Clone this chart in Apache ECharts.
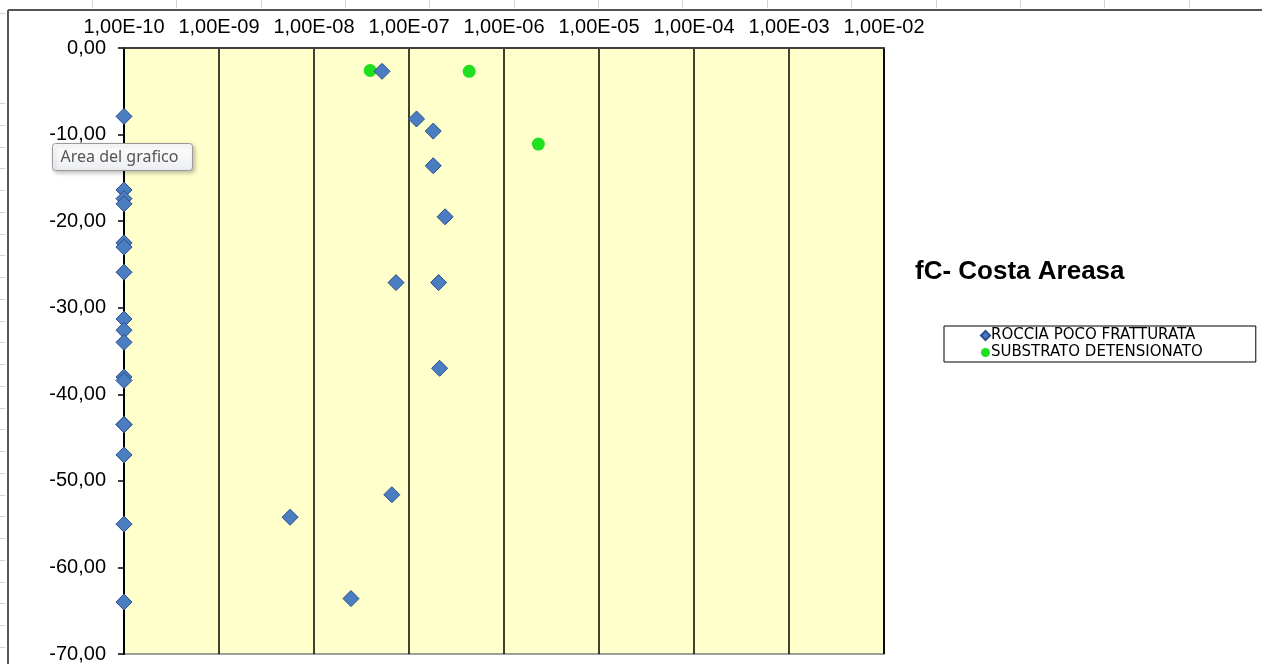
<!DOCTYPE html>
<html>
<head>
<meta charset="utf-8">
<script src="https://cdn.jsdelivr.net/npm/echarts@6/dist/echarts.min.js"></script>
<style>
html,body{margin:0;padding:0;background:#fff;}
#c{width:1262px;height:664px;}
</style>
</head>
<body>
<div id="c"></div>
<script>
// ---- data ----
var chartTitle = 'fC- Costa Areasa';
var seriesNames = ['ROCCIA POCO FRATTURATA', 'SUBSTRATO DETENSIONATO'];
var xTickExponents = [-10, -9, -8, -7, -6, -5, -4, -3, -2];
var yTicks = [0, -10, -20, -30, -40, -50, -60, -70];

var rocciaK = [1e-10, 1e-10, 1e-10, 1e-10, 1e-10, 1e-10, 1e-10, 1e-10, 1e-10, 1e-10, 1e-10, 1e-10, 1e-10, 1e-10, 1e-10, 1e-10, 1e-10,
               5.2e-8, 1.2e-7, 1.8e-7, 1.8e-7, 2.4e-7, 7.3e-8, 2.05e-7, 2.1e-7, 5.6e-9, 6.6e-8, 2.45e-8];
var rocciaDepth = [-7.9, -16.4, -17.4, -18.0, -22.5, -23.0, -25.9, -31.3, -32.6, -34.0, -38.0, -38.4, -43.5, -47.0, -55.0, -64.0, -43.5,
                   -2.7, -8.2, -9.6, -13.6, -19.5, -27.1, -27.1, -37.0, -54.2, -51.6, -63.6];
var substratoK = [3.9e-8, 4.3e-7, 2.3e-6];
var substratoDepth = [-2.6, -2.7, -11.1];

function pairs(xs, ys) { return xs.map(function (x, i) { return [x, ys[i]]; }); }

function fmtX(v) {
  var e = Math.round(Math.log10(v));
  var a = Math.abs(e);
  return '1,00E' + (e < 0 ? '-' : '+') + (a < 10 ? '0' + a : '' + a);
}
function fmtY(v) { return v.toFixed(2).replace('.', ','); }

// Excel sheet decorations (not data)
var deco = [];
deco.push({type: 'line', shape: {x1: 8, y1: 10, x2: 1262, y2: 10}, style: {stroke: '#555', lineWidth: 2}, z: 10});
deco.push({type: 'line', shape: {x1: 8, y1: 10, x2: 8, y2: 664}, style: {stroke: '#555', lineWidth: 2}, z: 10});
for (var tx = 92; tx < 1262; tx += 84.35) {
  deco.push({type: 'line', shape: {x1: Math.round(tx) + 0.5, y1: 0, x2: Math.round(tx) + 0.5, y2: 8}, style: {stroke: '#d4d4d4', lineWidth: 1}});
}
deco.push({type: 'line', shape: {x1: 0, y1: 13.5, x2: 5, y2: 13.5}, style: {stroke: '#d4d4d4', lineWidth: 1}});
for (var ty = 103; ty < 664; ty += 21.75) {
  deco.push({type: 'line', shape: {x1: 0, y1: Math.round(ty) + 0.5, x2: 5, y2: Math.round(ty) + 0.5}, style: {stroke: '#d4d4d4', lineWidth: 1}});
}
// "Area del grafico" hover tip from the screenshot
deco.push({
  type: 'group', left: 52, top: 143, z: 100, zlevel: 2,
  children: [
    {type: 'rect', zlevel: 2, shape: {x: 0, y: 0, width: 140, height: 27, r: 3},
     style: {fill: {type: 'linear', x: 0, y: 0, x2: 0, y2: 1, colorStops: [{offset: 0, color: '#ffffff'}, {offset: 1, color: '#eceef2'}]},
             stroke: '#9a9a9a', lineWidth: 1, shadowBlur: 4, shadowOffsetX: 2, shadowOffsetY: 2, shadowColor: 'rgba(0,0,0,0.25)'}},
    {type: 'text', zlevel: 2, x: 8, y: 13.5, style: {text: 'Area del grafico', font: '16px "Noto Sans"', fill: '#555', textVerticalAlign: 'middle'}}
  ]
});

var chart = echarts.init(document.getElementById('c'), null, {renderer: 'canvas'});
chart.setOption({
  animation: false,
  backgroundColor: '#ffffff',
  title: {
    text: chartTitle, left: 910, top: 254,
    textStyle: {fontFamily: '"Liberation Sans", Arial, sans-serif', fontWeight: 'bold', fontSize: 26, color: '#000'}
  },
  legend: {
    orient: 'vertical', left: 944, top: 326,
    data: [{name: seriesNames[0], icon: 'diamond'}, {name: seriesNames[1], icon: 'circle'}],
    itemWidth: 9, itemHeight: 9, itemGap: 2,
    padding: [2, 53, 2, 36],
    borderColor: '#000', borderWidth: 1,
    textStyle: {fontFamily: '"DejaVu Sans", sans-serif', fontSize: 15, color: '#000', padding: [0, 0, 0, -4]}
  },
  grid: {left: 124, right: 378, top: 48, bottom: 8.5, show: true, backgroundColor: '#FFFFCC', borderColor: '#7f7f7f', borderWidth: 1.5},
  xAxis: {
    type: 'log', logBase: 10, position: 'top',
    min: Math.pow(10, xTickExponents[0]), max: Math.pow(10, xTickExponents[xTickExponents.length - 1]),
    interval: 1, splitNumber: 8,
    axisLine: {show: true, lineStyle: {color: '#404040', width: 2}},
    axisTick: {show: false},
    splitLine: {show: true, lineStyle: {color: '#000', width: 1.5}},
    minorTick: {show: false}, minorSplitLine: {show: false},
    axisLabel: {formatter: fmtX, fontSize: 20, color: '#000', fontFamily: '"Liberation Sans", Arial, sans-serif', margin: 11, showMinLabel: true, showMaxLabel: true}
  },
  yAxis: {
    type: 'value', min: yTicks[yTicks.length - 1], max: yTicks[0], interval: 10,
    axisLine: {show: true, onZero: false, lineStyle: {color: '#000', width: 2}},
    axisTick: {show: true, length: 6, lineStyle: {color: '#000', width: 1.5}},
    splitLine: {show: false},
    axisLabel: {formatter: fmtY, fontSize: 20, color: '#000', fontFamily: '"Liberation Sans", Arial, sans-serif', margin: 18}
  },
  series: [
    {
      name: seriesNames[0], type: 'scatter', symbol: 'diamond', symbolSize: 16,
      itemStyle: {color: '#4A7EC0', borderColor: '#2B4B8C', borderWidth: 1, opacity: 1},
      data: pairs(rocciaK, rocciaDepth), z: 3
    },
    {
      name: seriesNames[1], type: 'scatter', symbol: 'circle', symbolSize: 13,
      itemStyle: {color: '#1EE01E', opacity: 1},
      data: pairs(substratoK, substratoDepth), z: 2
    }
  ],
  graphic: {elements: deco}
});
</script>
</body>
</html>
